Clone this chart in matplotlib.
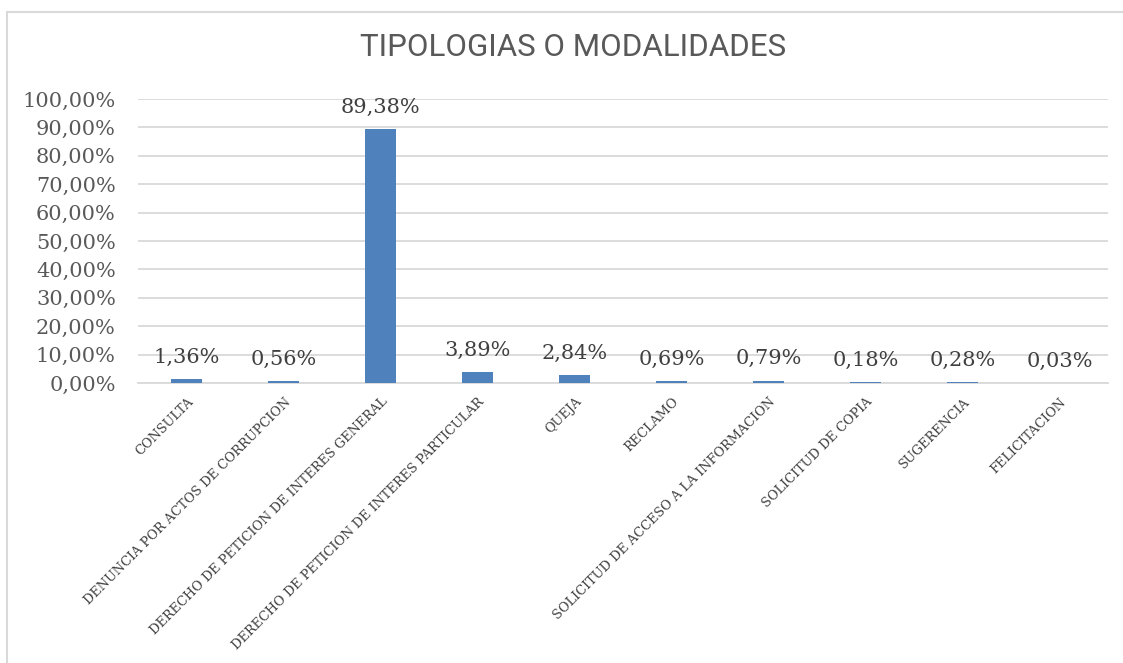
import matplotlib
matplotlib.use("Agg")
import matplotlib.pyplot as plt
from matplotlib.lines import Line2D
from matplotlib.transforms import ScaledTranslation

categories = [
    "CONSULTA",
    "DENUNCIA POR ACTOS DE CORRUPCION",
    "DERECHO DE PETICION DE INTERES GENERAL",
    "DERECHO DE PETICION DE INTERES PARTICULAR",
    "QUEJA",
    "RECLAMO",
    "SOLICITUD DE ACCESO A LA INFORMACION",
    "SOLICITUD DE COPIA",
    "SUGERENCIA",
    "FELICITACION",
]
values = [1.36, 0.56, 89.38, 3.89, 2.84, 0.69, 0.79, 0.18, 0.28, 0.03]
yticks = [0, 10, 20, 30, 40, 50, 60, 70, 80, 90, 100]
title = "TIPOLOGIAS O MODALIDADES"

W, H = 1123, 663
fig = plt.figure(figsize=(W / 100, H / 100), dpi=100)
ax = fig.add_axes([138 / W, 1 - 383 / H, (1108 - 138) / W, (383 - 99) / H])

bar_color = "#4F81BD"
x = list(range(len(categories)))
bars = ax.bar(x, values, width=0.31, color=bar_color, zorder=3)

ax.set_xlim(-0.5, len(categories) - 0.5)
ax.set_ylim(0, 100)
ax.set_yticks(yticks)
ax.set_yticklabels([f"{v:.2f}".replace(".", ",") + "%" for v in yticks],
                   fontfamily="DejaVu Serif", fontsize=15, color="#595959")
ax.grid(axis="y", color="#D9D9D9", linewidth=1.3, zorder=0)
ax.set_axisbelow(True)
for s in ["top", "right", "left"]:
    ax.spines[s].set_visible(False)
ax.spines["bottom"].set_color("#D9D9D9")
ax.spines["bottom"].set_linewidth(1.3)
ax.tick_params(axis="y", length=0, pad=16)
ax.tick_params(axis="x", length=0, pad=2)

ax.set_xticks(x)
ax.set_xticklabels(categories, rotation=45, ha="right", va="center",
                   rotation_mode="anchor", fontfamily="DejaVu Serif",
                   fontsize=9.3, color="#404040")
offset = ScaledTranslation(5 / 100, -14 / 100, fig.dpi_scale_trans)
for lbl in ax.get_xticklabels():
    lbl.set_transform(lbl.get_transform() + offset)

for xi, v in zip(x, values):
    ax.annotate(f"{v:.2f}".replace(".", ",") + "%", (xi, v),
                xytext=(0, 9), textcoords="offset points",
                ha="center", va="bottom", fontfamily="DejaVu Serif",
                fontsize=15, color="#404040", zorder=4)

fig.text(573 / W, 1 - 48 / H, title, ha="center", va="center",
         fontfamily="Roboto", fontweight="normal", fontsize=22.5, color="#595959")

fig.add_artist(Line2D([8 / W, 1.0], [1 - 12 / H, 1 - 12 / H],
                      color="#D9D9D9", linewidth=1.5, transform=fig.transFigure))
fig.add_artist(Line2D([7 / W, 7 / W], [0, 1 - 12 / H],
                      color="#D9D9D9", linewidth=1.5, transform=fig.transFigure))

fig.savefig("out.png", dpi=100, facecolor="white")
